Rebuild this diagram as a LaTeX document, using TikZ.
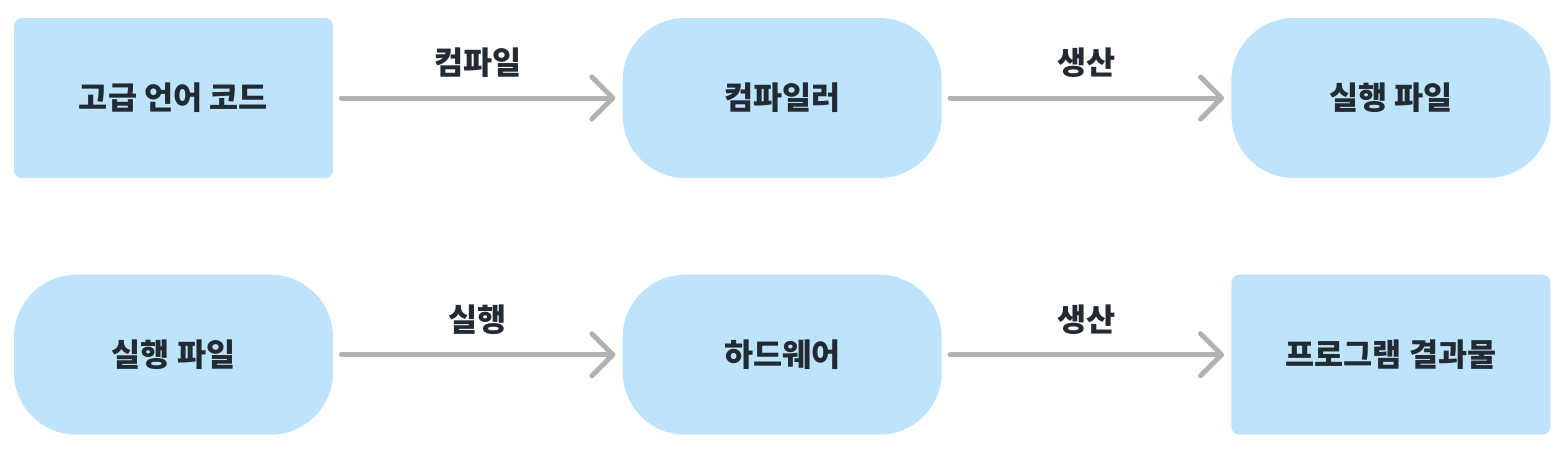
\documentclass[tikz,border=0pt]{standalone}
\usepackage{fontspec}
\setmainfont{Noto Sans CJK KR}
\usepackage{tikz}
\usetikzlibrary{arrows.meta, positioning}
\definecolor{boxsky}{RGB}{190,227,252}
\definecolor{arrgray}{RGB}{178,178,178}
\definecolor{txtdark}{RGB}{34,42,50}
\tikzset{
  basebox/.style={rectangle,fill=boxsky,draw=none,align=center,text=txtdark,
                  font=\fontsize{18}{21}\selectfont\bfseries,minimum width=6.38cm,minimum height=3.2cm},
  filebox/.style={basebox,rounded corners=0.16cm},
  procbox/.style={basebox,rounded corners=1.25cm},
  flowarr/.style={-{Straight Barb[length=0.42cm,width=0.84cm,round]},line width=0.1cm,
                  line cap=round,color=arrgray,shorten <=0.16cm,shorten >=0.14cm},
  arrlabel/.style={midway,yshift=0.7cm,text=txtdark,font=\fontsize{18}{21}\selectfont\bfseries}
}
\begin{document}
\begin{tikzpicture}[node distance=5.78cm]
  \useasboundingbox (0,0) rectangle (31.36,-9.06);
  % compile row
  \node[filebox] (src) at (3.47,-1.96) {고급 언어 코드};
  \node[procbox,right=of src] (comp) {컴파일러};
  \node[procbox,right=of comp] (exe) {실행 파일};
  % run row
  \node[procbox,below=1.92cm of src] (exe2) {실행 파일};
  \node[procbox,right=of exe2] (hw) {하드웨어};
  \node[filebox,right=of hw] (res) {프로그램 결과물};

  \draw[flowarr] (src) -- (comp) node[arrlabel]{컴파일};
  \draw[flowarr] (comp) -- (exe) node[arrlabel]{생산};
  \draw[flowarr] (exe2) -- (hw) node[arrlabel]{실행};
  \draw[flowarr] (hw) -- (res) node[arrlabel]{생산};
\end{tikzpicture}
\end{document}
